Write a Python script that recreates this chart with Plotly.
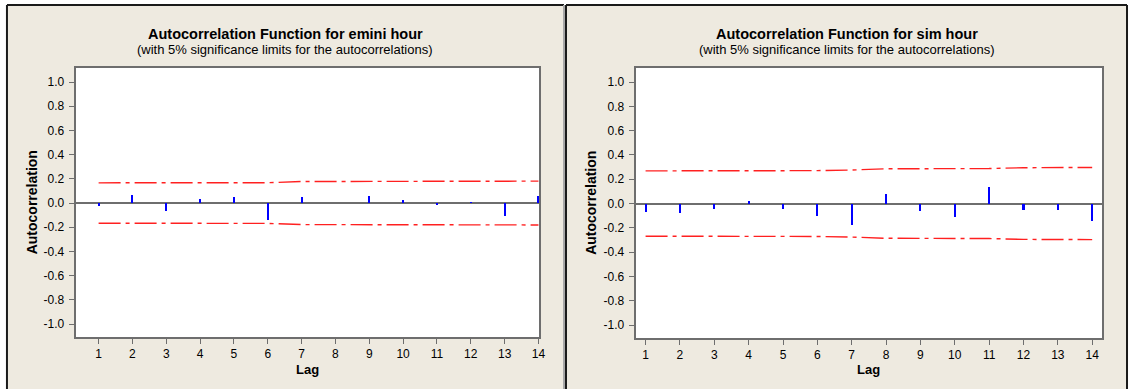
import plotly.graph_objects as go

W, H = 1135, 389

lags = list(range(1, 15))
emini_acf = [-0.022, 0.067, -0.064, 0.031, 0.050, -0.139, 0.050, 0.003,
             0.058, 0.022, -0.014, 0.008, -0.111, 0.056]
emini_limit = [0.167, 0.167, 0.167, 0.168, 0.168, 0.168, 0.178, 0.178,
               0.178, 0.179, 0.179, 0.179, 0.179, 0.181]
sim_acf = [-0.069, -0.078, -0.047, 0.017, -0.047, -0.103, -0.178, 0.078,
           -0.061, -0.111, 0.136, -0.056, -0.056, -0.144]
sim_limit = [0.269, 0.269, 0.269, 0.270, 0.270, 0.271, 0.276, 0.286,
             0.287, 0.287, 0.288, 0.295, 0.296, 0.297]
y_ticks = [-1.0, -0.8, -0.6, -0.4, -0.2, 0.0, 0.2, 0.4, 0.6, 0.8, 1.0]
titles = ["Autocorrelation Function for emini hour",
          "Autocorrelation Function for sim hour"]
subtitle = "(with 5% significance limits for the autocorrelations)"

FONT = "Liberation Sans"
BEIGE = "#EEEAE0"


def px_x(p):
    return p / W


def px_y(p):
    return 1 - p / H


fig = go.Figure()

panels = [
    dict(acf=emini_acf, lim=emini_limit, xa="x", ya="y",
         dom_x=(76, 542), dom_y=(68, 337), xr=[0.32, 14.02],
         box=(7, 567), title=titles[0]),
    dict(acf=sim_acf, lim=sim_limit, xa="x2", ya="y2",
         dom_x=(639, 1108), dom_y=(68, 338), xr=[0.71, 14.29],
         box=(569, 1133), title=titles[1]),
]

shapes = []
annotations = []

for i, p in enumerate(panels):
    shapes.append(dict(type="rect", xref="paper", yref="paper",
                       x0=px_x(p["box"][0]), x1=px_x(p["box"][1]),
                       y0=-0.1, y1=px_y(5), fillcolor=BEIGE,
                       line=dict(width=0), layer="below"))
    sfx = "" if i == 0 else "2"
    shapes.append(dict(type="rect", xref="x%s domain" % sfx,
                       yref="y%s domain" % sfx, x0=0, x1=1, y0=0, y1=1,
                       fillcolor="white", line=dict(width=0), layer="below"))
    shapes.append(dict(type="line", xref="paper", yref="paper",
                       x0=px_x(p["box"][0]), x1=px_x(p["box"][1]),
                       y0=px_y(5), y1=px_y(5),
                       line=dict(color="#1a1a1a", width=2), layer="below"))
    shapes.append(dict(type="line", xref="paper", yref="paper",
                       x0=px_x(p["box"][0]), x1=px_x(p["box"][0]),
                       y0=-0.1, y1=px_y(5),
                       line=dict(color="#1a1a1a", width=2), layer="below"))
    shapes.append(dict(type="line", xref="paper", yref="paper",
                       x0=px_x(p["box"][1]), x1=px_x(p["box"][1]),
                       y0=-0.1, y1=px_y(5),
                       line=dict(color="#a9a9a9" if i == 0 else "#1a1a1a",
                                 width=2), layer="below"))

    fig.add_trace(go.Bar(x=lags, y=p["acf"], width=0.06,
                         marker=dict(color="#0000FF", line=dict(width=0)),
                         xaxis=p["xa"], yaxis=p["ya"], showlegend=False))
    for sign in (1, -1):
        fig.add_trace(go.Scatter(x=lags, y=[sign * v for v in p["lim"]],
                                 mode="lines",
                                 line=dict(color="#FF2020", width=1.4,
                                           dash="22px,5px,4px,5px"),
                                 xaxis=p["xa"], yaxis=p["ya"],
                                 showlegend=False))

    cx = (p["box"][0] + p["box"][1]) / 2
    annotations.append(dict(text="<b>%s</b>" % p["title"], x=px_x(cx),
                            y=px_y(34), xref="paper", yref="paper",
                            showarrow=False, xanchor="center", yanchor="middle",
                            font=dict(family=FONT, size=14.5, color="black")))
    annotations.append(dict(text=subtitle, x=px_x(cx), y=px_y(50),
                            xref="paper", yref="paper", showarrow=False,
                            xanchor="center", yanchor="middle",
                            font=dict(family=FONT, size=13, color="black")))
    annotations.append(dict(text="<b>Autocorrelation</b>",
                            x=px_x(p["box"][0] + 25),
                            y=px_y((p["dom_y"][0] + p["dom_y"][1]) / 2),
                            xref="paper", yref="paper", showarrow=False,
                            textangle=-90, xanchor="center", yanchor="middle",
                            font=dict(family=FONT, size=14, color="black")))
    annotations.append(dict(text="<b>Lag</b>",
                            x=px_x((p["dom_x"][0] + p["dom_x"][1]) / 2),
                            y=px_y(369), xref="paper", yref="paper",
                            showarrow=False, xanchor="center",
                            yanchor="middle",
                            font=dict(family=FONT, size=13, color="black")))

axis_common = dict(showgrid=False, showline=True, linecolor="#6e6e6e",
                   linewidth=2, mirror=True, ticks="outside", ticklen=5,
                   tickcolor="#6e6e6e", tickwidth=1,
                   tickfont=dict(family=FONT, size=12, color="black"),
                   fixedrange=True)

layout = dict(width=W, height=H, margin=dict(l=0, r=0, t=0, b=0),
              paper_bgcolor="white", plot_bgcolor="white", bargap=0,
              shapes=shapes, annotations=annotations)

for i, p in enumerate(panels):
    sfx = "" if i == 0 else "2"
    xa = dict(axis_common, domain=[px_x(p["dom_x"][0]), px_x(p["dom_x"][1])],
              range=p["xr"], tickmode="array", tickvals=lags,
              ticktext=[str(v) for v in lags], zeroline=False,
              anchor="y" + sfx, ticklabelstandoff=0)
    ya = dict(axis_common, domain=[px_y(p["dom_y"][1]), px_y(p["dom_y"][0])],
              range=[-1.107, 1.116], tickmode="array", tickvals=y_ticks,
              ticktext=["%.1f" % v for v in y_ticks], zeroline=True,
              zerolinecolor="#6e6e6e", zerolinewidth=2,
              anchor="x" + sfx, ticklabelstandoff=2)
    layout["xaxis" + sfx] = xa
    layout["yaxis" + sfx] = ya

fig.update_layout(**layout)
fig.write_html(
    "out.html",
    config={"displayModeBar": False, "staticPlot": True},
    post_script="document.body.style.margin='0';"
                "document.body.style.overflow='hidden';")
